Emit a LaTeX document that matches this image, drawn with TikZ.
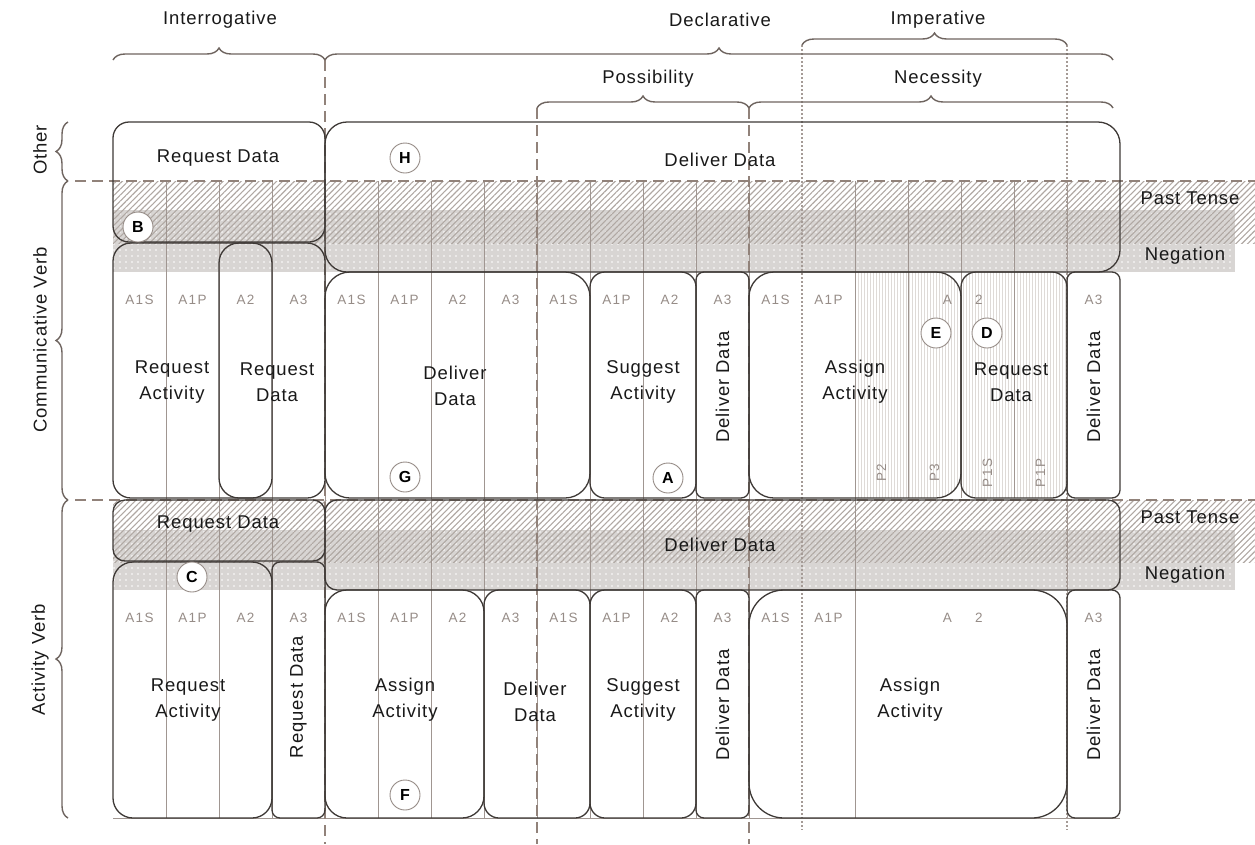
\documentclass[tikz,border=0pt]{standalone}
\usepackage{fontspec}
\setmainfont{Liberation Sans}
\newfontfamily\lblfont[LetterSpace=5]{Liberation Sans}
\newfontfamily\hdfont[LetterSpace=10]{Liberation Sans}
\usetikzlibrary{patterns.meta,decorations.pathreplacing}

\definecolor{framecol}{RGB}{62,57,54}
\definecolor{gridcol}{RGB}{160,150,145}
\definecolor{dashcol}{RGB}{145,130,122}
\definecolor{dotcol}{RGB}{165,155,150}
\definecolor{hatchcol}{RGB}{176,168,163}
\definecolor{negfill}{RGB}{216,213,211}
\definecolor{stripecol}{RGB}{222,218,215}
\definecolor{txtcol}{RGB}{25,25,25}
\definecolor{headcol}{RGB}{150,140,135}
\definecolor{bracecol}{RGB}{110,100,95}
\definecolor{badgecol}{RGB}{150,140,135}

\tikzset{
  frame/.style={draw=framecol,line width=1.3pt},
  gridline/.style={draw=gridcol,line width=0.8pt},
  divdash/.style={draw=dashcol,line width=2.2pt,dash pattern=on 11pt off 6pt},
  divdot/.style={draw=dotcol,line width=1.4pt,dash pattern=on 1.6pt off 2.4pt},
  lbl/.style={font=\lblfont\fontsize{18.5}{26}\selectfont,text=txtcol,align=center,inner sep=0pt},
  colhead/.style={font=\hdfont\fontsize{13.5}{14}\selectfont,text=headcol,inner sep=0pt},
  badge/.style={circle,draw=badgecol,fill=white,line width=0.9pt,minimum size=30pt,inner sep=0pt,
    font=\bfseries\fontsize{16}{16}\selectfont,text=black},
  bracket/.style={draw=bracecol,line width=1.4pt,decorate,decoration={brace,amplitude=12pt}},
  pasttense/.style={pattern={Lines[angle=45,distance=4.2pt,line width=1.1pt]},pattern color=hatchcol},
  negdots/.style={pattern={Dots[distance=6pt,radius=0.8pt]},pattern color=white},
  stripes/.style={pattern={Lines[angle=90,distance=3pt,line width=0.6pt]},pattern color=stripecol},
}

\begin{document}
\begin{tikzpicture}[x=1pt,y=-1pt]
\useasboundingbox (0,0) rectangle (1255,844);

% ---- Negation bands (grey with white dots)
\fill[negfill] (113,210) rectangle (1235,272);
\fill[negdots] (113,210) rectangle (1235,272);
\fill[negfill] (113,530) rectangle (1235,590);
\fill[negdots] (113,530) rectangle (1235,590);

% ---- Past tense bands (diagonal hatching)
\fill[pasttense] (113,181) rectangle (1255,243);
\fill[pasttense] (113,500) rectangle (1255,562);

% ---- vertical stripes in the imperative columns
\begin{scope}
  \clip[rounded corners=25pt] (749,272) rectangle (961,498);
  \fill[stripes] (855,272) rectangle (961,498);
\end{scope}
\begin{scope}
  \clip[rounded corners=15pt] (961,272) rectangle (1067,498);
  \fill[stripes] (961,272) rectangle (1067,498);
\end{scope}

% ---- column grid
\foreach \xx in {166,219,272,325,378,431,484,537,590,643,696,749,855,1067}
  \draw[gridline] (\xx,181) -- (\xx,818);
\foreach \xx in {908,961,1014}
  \draw[gridline] (\xx,181) -- (\xx,498);
\draw[gridline] (113,818) -- (1120,818);

% ---- mood / modality dividers
\draw[divdash] (325,60) -- (325,844);
\draw[divdash] (537,108) -- (537,844);
\draw[divdash] (749,108) -- (749,844);
\draw[divdot] (802,45) -- (802,830);
\draw[divdot] (1067,45) -- (1067,830);
\draw[divdash] (75,181) -- (1255,181);
\draw[divdash] (75,500) -- (1255,500);

% ---- Other row
\draw[frame,rounded corners=16pt] (113,122) rectangle (325,242);
\draw[frame,rounded corners=22pt] (325,122) rectangle (1120,272);

% ---- Communicative verb row
\draw[frame,rounded corners=18pt] (113,243) rectangle (325,498);
\draw[frame,rounded corners=20pt] (219,243) rectangle (272,498);
\draw[frame,rounded corners=25pt] (325,272) rectangle (590,498);
\draw[frame,rounded corners=15pt] (590,272) rectangle (696,498);
\draw[frame,rounded corners=8pt]  (696,272) rectangle (749,498);
\draw[frame,rounded corners=25pt] (749,272) rectangle (961,498);
\draw[frame,rounded corners=15pt] (961,272) rectangle (1067,498);
\draw[frame,rounded corners=8pt]  (1067,272) rectangle (1120,498);

% ---- Activity verb row
\draw[frame,rounded corners=12pt] (113,500) rectangle (325,561);
\draw[frame,rounded corners=12pt] (325,500) rectangle (1120,590);
\draw[frame,rounded corners=20pt] (113,562) rectangle (272,818);
\draw[frame,rounded corners=8pt]  (272,562) rectangle (325,818);
\draw[frame,rounded corners=22pt] (325,590) rectangle (484,818);
\draw[frame,rounded corners=15pt] (484,590) rectangle (590,818);
\draw[frame,rounded corners=15pt] (590,590) rectangle (696,818);
\draw[frame,rounded corners=8pt]  (696,590) rectangle (749,818);
\draw[frame,rounded corners=35pt] (749,590) rectangle (1067,818);
\draw[frame,rounded corners=8pt]  (1067,590) rectangle (1120,818);

% ---- braces and their captions
\draw[bracket] (113,60) -- (325,60);
\draw[bracket] (325,60) -- (1113,60);
\draw[bracket] (802,45) -- (1067,45);
\draw[bracket] (537,108) -- (749,108);
\draw[bracket] (749,108) -- (1113,108);
\draw[bracket] (68,181) -- (68,122);
\draw[bracket] (68,500) -- (68,181);
\draw[bracket] (68,818) -- (68,500);

\node[lbl] (tint) at (220,20) {Interrogative};
\node[lbl] (tdec) at (720,20) {Declarative};
\node[lbl] (timp) at (938,20) {Imperative};
\node[lbl] (tpos) at (648,79) {Possibility};
\node[lbl] (tnec) at (938,79) {Necessity};

\node[lbl,rotate=90] (soth) at (40,150) {Other};
\node[lbl,rotate=90] (scom) at (40,340) {Communicative Verb};
\node[lbl,rotate=90] (sact) at (40,660) {Activity Verb};

\node[lbl] (pt1) at (1190,198) {Past Tense};
\node[lbl] (ng1) at (1185,256) {Negation};
\node[lbl] (pt2) at (1190,517) {Past Tense};
\node[lbl] (ng2) at (1185,575) {Negation};

% ---- column headings
\foreach \i/\t in {0/A1S,1/A1P,2/A2,3/A3,4/A1S,5/A1P,6/A2,7/A3,8/A1S,9/A1P,10/A2,11/A3,12/A1S,13/A1P,18/A3} {
  \node[colhead] (hc\i) at ({139.5+53*\i},300) {\t};
  \node[colhead] (ha\i) at ({139.5+53*\i},618) {\t};
}
\node[colhead,anchor=east] (hcA) at (952,300) {A};
\node[colhead,anchor=west] (hcB) at (975,300) {2};
\node[colhead,anchor=east] (haA) at (952,618) {A};
\node[colhead,anchor=west] (haB) at (975,618) {2};
\node[colhead,rotate=90] (pp2) at (881.5,473) {P2};
\node[colhead,rotate=90] (pp3) at (934.5,473) {P3};
\node[colhead,rotate=90] (pp1s) at (987.5,473) {P1S};
\node[colhead,rotate=90] (pp1p) at (1040.5,473) {P1P};

% ---- block captions
\node[lbl] (ord) at (218,158) {Request Data};
\node[lbl] (odd) at (720,160) {Deliver Data};

\node[lbl] (cra) at (172,382) {Request\\Activity};
\node[lbl] (crd) at (277,382) {Request\\Data};
\node[lbl] (cdd) at (455,386) {Deliver\\Data};
\node[lbl] (csa) at (643,382) {Suggest\\Activity};
\node[lbl,rotate=90] (cdv1) at (722.5,387) {Deliver Data};
\node[lbl] (caa) at (855,382) {Assign\\Activity};
\node[lbl] (crq) at (1011,382) {Request\\Data};
\node[lbl,rotate=90] (cdv2) at (1093.5,387) {Deliver Data};

\node[lbl] (ard) at (218,524) {Request Data};
\node[lbl] (add) at (720,545) {Deliver Data};
\node[lbl] (ara) at (188,700) {Request\\Activity};
\node[lbl,rotate=90] (arv) at (298.5,697) {Request Data};
\node[lbl] (aaa) at (405,700) {Assign\\Activity};
\node[lbl] (adl) at (535,702) {Deliver\\Data};
\node[lbl] (asa) at (643,700) {Suggest\\Activity};
\node[lbl,rotate=90] (adv1) at (722.5,705) {Deliver Data};
\node[lbl] (aab) at (910,700) {Assign\\Activity};
\node[lbl,rotate=90] (adv2) at (1093.5,705) {Deliver Data};

% ---- lettered markers
\node[badge] (mH) at (405,158) {H};
\node[badge] (mB) at (138,227) {B};
\node[badge] (mG) at (405,477) {G};
\node[badge] (mA) at (668,478) {A};
\node[badge] (mE) at (936,333) {E};
\node[badge] (mD) at (987,333) {D};
\node[badge] (mC) at (192,577) {C};
\node[badge] (mF) at (405,795) {F};
\end{tikzpicture}
\end{document}
